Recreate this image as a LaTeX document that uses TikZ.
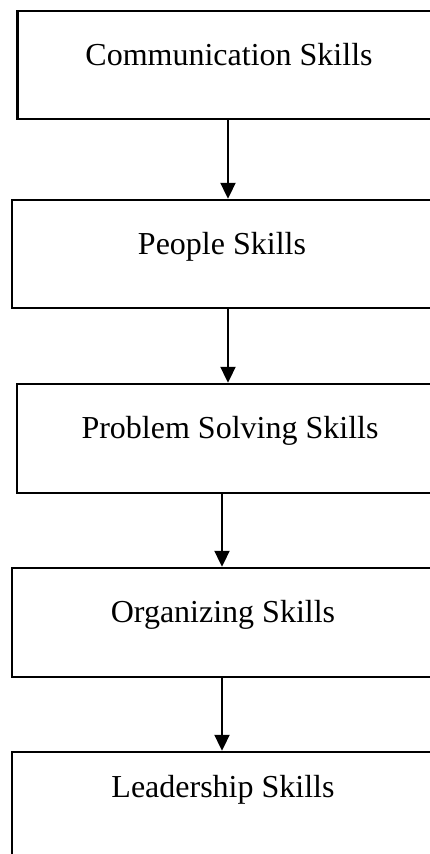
\documentclass[tikz,border=0pt]{standalone}
\usepackage{fontspec}
\setmainfont{Liberation Serif}
\usetikzlibrary{arrows.meta}
\begin{document}
\begin{tikzpicture}[x=1pt,y=-1pt,
  skillbox/.style={draw=black, line width=2.4pt, rectangle, inner xsep=0pt, inner ysep=0pt,
    font=\fontsize{32}{38}\selectfont, align=center, anchor=base},
  arr/.style={line width=2pt, -{Triangle[width=15pt,length=16pt]}}]
\useasboundingbox (0,0) rectangle (430,854);
\clip (0,0) rectangle (430,854);
\fill[white] (0,0) rectangle (430,854);
\node[skillbox, minimum width=423pt, text height=54pt, text depth=54pt] (b1) at (229,65) {Communication Skills};
\node[skillbox, minimum width=420pt, text height=54pt, text depth=54pt] (b2) at (222,254) {People Skills};
\node[skillbox, minimum width=426pt, text height=54.5pt, text depth=54.5pt] (b3) at (230,438.5) {Problem Solving Skills};
\node[skillbox, minimum width=422pt, text height=54.5pt, text depth=54.5pt] (b4) at (223,622.5) {Organizing Skills};
\node[skillbox, minimum width=422pt, text height=45pt, text depth=80pt] (b5) at (223,797) {Leadership Skills};
\coordinate (xa) at (228,0);
\coordinate (xb) at (222,0);
\draw[arr] (b1.south -| xa) -- (b2.north -| xa);
\draw[arr] (b2.south -| xa) -- (b3.north -| xa);
\draw[arr] (b3.south -| xb) -- (b4.north -| xb);
\draw[arr] (b4.south -| xb) -- (b5.north -| xb);
\end{tikzpicture}
\end{document}
